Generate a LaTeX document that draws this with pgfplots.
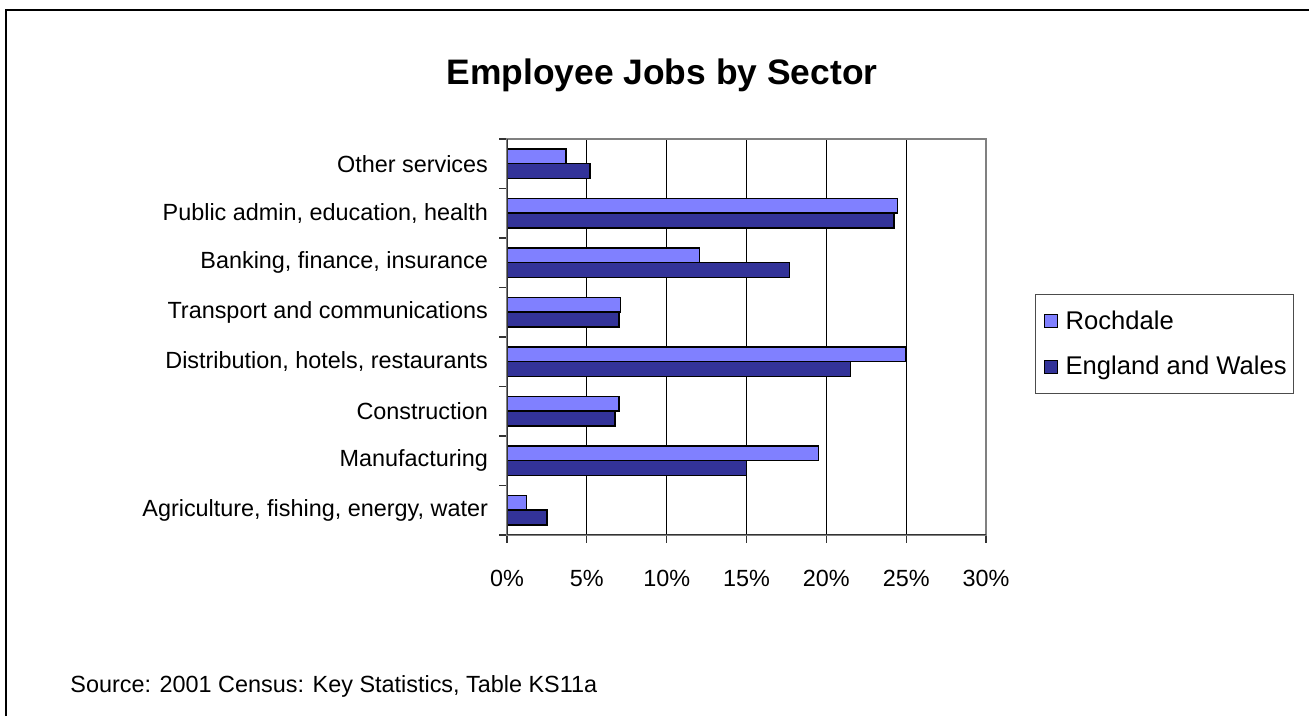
\documentclass[border=0pt]{standalone}
\usepackage{fontspec}
\setmainfont{Liberation Sans}
\usepackage{pgfplots}
\pgfplotsset{compat=1.18}
\definecolor{roch}{HTML}{8080FF}
\definecolor{ew}{HTML}{333399}
\begin{document}
\begin{tikzpicture}[x=0.5pt,y=0.5pt]
\useasboundingbox (0,0) rectangle (1309,716);
\draw[black, line width=0.9pt] (6,0) -- (6,706) -- (1309,706);
\begin{axis}[
  at={(253.5pt,90.5pt)}, anchor=south west,
  scale only axis, width=239.5pt, height=198pt,
  xbar, bar width=7.3pt,
  xmin=0, xmax=30, ymin=-0.5, ymax=7.5,
  xtick={0,5,...,30},
  xticklabels={0\%,5\%,10\%,15\%,20\%,25\%,30\%},
  ytick={0,1,2,3,4,5,6,7},
  yticklabels={{Agriculture, fishing, energy, water},Manufacturing,Construction,{Distribution, hotels, restaurants},Transport and communications,{Banking, finance, insurance},{Public admin, education, health},Other services},
  minor ytick={-0.5,0.5,1.5,2.5,3.5,4.5,5.5,6.5,7.5},
  major tick length=4pt, minor tick length=4pt,
  tick align=outside, xtick pos=bottom, ytick pos=left,
  major y tick style={draw=none},
  minor y tick style={black!80, line width=0.6pt},
  major x tick style={black!80, line width=0.6pt},
  xmajorgrids, major x grid style={black, line width=0.5pt},
  axis line style={gray, line width=0.75pt},
  ticklabel style={font=\fontsize{11.7}{13}\selectfont},
  yticklabel style={xshift=-2pt},
  xticklabel style={yshift=-10pt},
  legend style={at={(1.1023,0.6086)}, anchor=north west, draw=gray!60!black, line width=0.6pt,
    font=\fontsize{12.8}{15}\selectfont, row sep=8pt, inner xsep=1pt, inner ysep=6pt,
    nodes={inner xsep=2.5pt}},
  legend cell align=left,
  legend image code/.code={\path[draw=none, fill=none] (0pt,0pt) -- (11.5pt,0pt);\draw[#1, draw=black, line width=0.5pt] (3.5pt,-3.25pt) rectangle (10pt,3.25pt);},
]
\addplot[fill=roch, draw=black, line width=0.75pt, bar shift=3.65pt] coordinates {
(1.23,0) (19.5,1) (7.0,2) (24.95,3) (7.1,4) (12.05,5) (24.45,6) (3.7,7)};
\addplot[fill=ew, draw=black, line width=0.75pt, bar shift=-3.65pt] coordinates {
(2.5,0) (15.0,1) (6.76,2) (21.5,3) (7.0,4) (17.7,5) (24.25,6) (5.2,7)};
\legend{Rochdale, England and Wales}
\draw[black!80, line width=1pt] (rel axis cs:0,1) -- (rel axis cs:0,0) -- (rel axis cs:1,0);
\end{axis}
\node[anchor=base, font=\fontsize{17.7}{21}\selectfont\bfseries] at (662,{716-85}) {Employee Jobs by Sector};
\node[anchor=base west, inner sep=0pt, font=\fontsize{11.7}{13}\selectfont] at (70,{716-692}) {Source: 2001 Census: Key Statistics, Table KS11a};
\end{tikzpicture}
\end{document}
